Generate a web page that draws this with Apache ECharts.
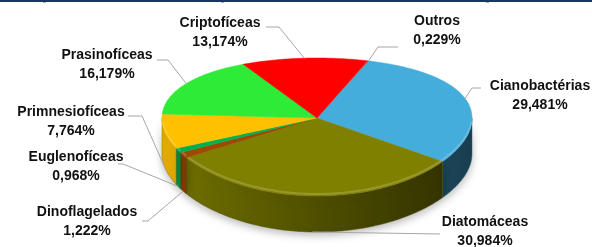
<!DOCTYPE html>
<html>
<head>
<meta charset="utf-8">
<script src="https://cdn.jsdelivr.net/npm/echarts@6/dist/echarts.min.js"></script>
<style>
  html, body { margin: 0; padding: 0; background: #fff; }
  #main { width: 592px; height: 247px; }
</style>
</head>
<body>
<div id="main"></div>
<script>
// grupos, no sentido horário a partir de "Outros"
var categories = ['Outros', 'Cianobactérias', 'Diatomáceas', 'Dinoflagelados', 'Euglenofíceas', 'Primnesiofíceas', 'Prasinofíceas', 'Criptofíceas'];
var values = [0.229, 29.481, 30.984, 1.222, 0.968, 7.764, 16.179, 13.174];
var colors = ['#7f7f7f', '#45addb', '#808000', '#9c4a00', '#00b050', '#ffc000', '#2deb36', '#ff0000'];

// posição dos rótulos: [x texto, y 1a linha, x início da linha, y início, trecho horizontal]
var labelPos = [
  [437, 21, 398, 47, -20],
  [540, 86, 481, 88, -9],
  [485, 222, 440, 234, 0],
  [87, 212, 142, 221, 6],
  [76, 157, 118, 164, 5],
  [71, 112, 128, 116, 14],
  [107, 55, 157, 60, 11],
  [220, 23, 266, 27, 13]
];

// geometria do "3D"
var cx = 317, cy = 127, rx = 155, ry = 69, tilt = 9, depth = 36, startDeg = 19;
var total = values.reduce(function (a, b) { return a + b; }, 0);

function pt(deg, down) {
  var a = deg * Math.PI / 180, u = Math.sin(a), v = -Math.cos(a);
  return [cx + rx * u, cy + ry * v - tilt * (1 - v * v) + (down || 0)];
}
function arc(a0, a1, down) {
  var pts = [], n = Math.max(2, Math.ceil(Math.abs(a1 - a0)));
  for (var i = 0; i <= n; i++) pts.push(pt(a0 + (a1 - a0) * i / n, down));
  return pts;
}
function angles(i) {
  var cum = 0;
  for (var k = 0; k < i; k++) cum += values[k];
  var a0 = startDeg + 360 * cum / total;
  return [a0, a0 + 360 * values[i] / total];
}
function shade(hex, f) {
  var c = echarts.color.parse(hex);
  return 'rgb(' + Math.round(c[0] * f) + ',' + Math.round(c[1] * f) + ',' + Math.round(c[2] * f) + ')';
}
function fmt(v) {
  return v.toFixed(3).replace('.', ',') + '%';
}

var myChart = echarts.init(document.getElementById('main'));

var option = {
  animation: false,
  graphic: [
    { type: 'rect', shape: { x: 0, y: 0, width: 592, height: 2 }, style: { fill: '#17375e' } },
    { type: 'rect', shape: { x: 43, y: 2, width: 3, height: 1 }, style: { fill: '#9fb3c8' } },
    { type: 'rect', shape: { x: 221, y: 2, width: 3, height: 1 }, style: { fill: '#9fb3c8' } },
    { type: 'rect', shape: { x: 486, y: 2, width: 3, height: 1 }, style: { fill: '#9fb3c8' } }
  ],
  series: [
    {
      // paredes laterais
      type: 'custom',
      coordinateSystem: 'none',
      z: 1,
      data: values.map(function (v, i) { return [i, v]; }),
      renderItem: function (params, api) {
        var i = params.dataIndex, a = angles(i);
        var lo = Math.max(a[0], 90), hi = Math.min(a[1], 270);
        if (lo >= hi) return { type: 'group', children: [] };
        var pts = arc(lo, hi, 0).concat(arc(hi, lo, depth));
        return {
          type: 'polygon',
          shape: { points: pts },
          style: {
            fill: new echarts.graphic.LinearGradient(cx - rx, 0, cx + rx, 0, [
              { offset: 0, color: shade(colors[i], 0.9) },
              { offset: 0.5, color: shade(colors[i], 0.62) },
              { offset: 1, color: shade(colors[i], 0.36) }
            ], true),
            stroke: shade(colors[i], 0.6),
            lineWidth: 0.5,
            shadowColor: 'rgba(0,0,0,0.28)',
            shadowBlur: 8,
            shadowOffsetY: 3
          }
        };
      }
    },
    {
      // topo das fatias e rótulos
      type: 'custom',
      coordinateSystem: 'none',
      z: 2,
      data: values.map(function (v, i) { return [i, v]; }),
      renderItem: function (params, api) {
        var i = params.dataIndex, a = angles(i);
        var top = [[cx, cy - tilt]].concat(arc(a[0], a[1], 0));
        var children = [{
          type: 'polygon',
          shape: { points: top },
          style: { fill: colors[i], stroke: colors[i], lineWidth: 0.5 }
        }];
        // realce na borda frontal
        var lo = Math.max(a[0], 95), hi = Math.min(a[1], 265);
        if (lo < hi) {
          children.push({
            type: 'polyline',
            shape: { points: arc(lo, hi, -2) },
            style: { stroke: 'rgba(255,255,255,0.18)', lineWidth: 2, fill: null }
          });
        }
        var mid = (a[0] + a[1]) / 2;
        var v = -Math.cos(mid * Math.PI / 180);
        var end = pt(mid, v > 0.05 ? depth : 0);
        var L = labelPos[i];
        children.push({
          type: 'polyline',
          shape: { points: [[L[2], L[3]], [L[2] + L[4], L[3]], end] },
          style: { stroke: '#a6a6a6', lineWidth: 1, fill: null }
        });
        children.push({
          type: 'text',
          style: {
            text: categories[i] + '\n' + fmt(values[i]),
            x: L[0], y: L[1] - 9,
            align: 'center', verticalAlign: 'top',
            fontFamily: 'Liberation Sans', fontWeight: 'bold', fontSize: 14,
            lineHeight: 19, fill: '#111'
          }
        });
        return { type: 'group', children: children };
      }
    }
  ]
};

myChart.setOption(option);
window.onresize = function () {
  myChart.resize();
};
</script>
</body>
</html>
